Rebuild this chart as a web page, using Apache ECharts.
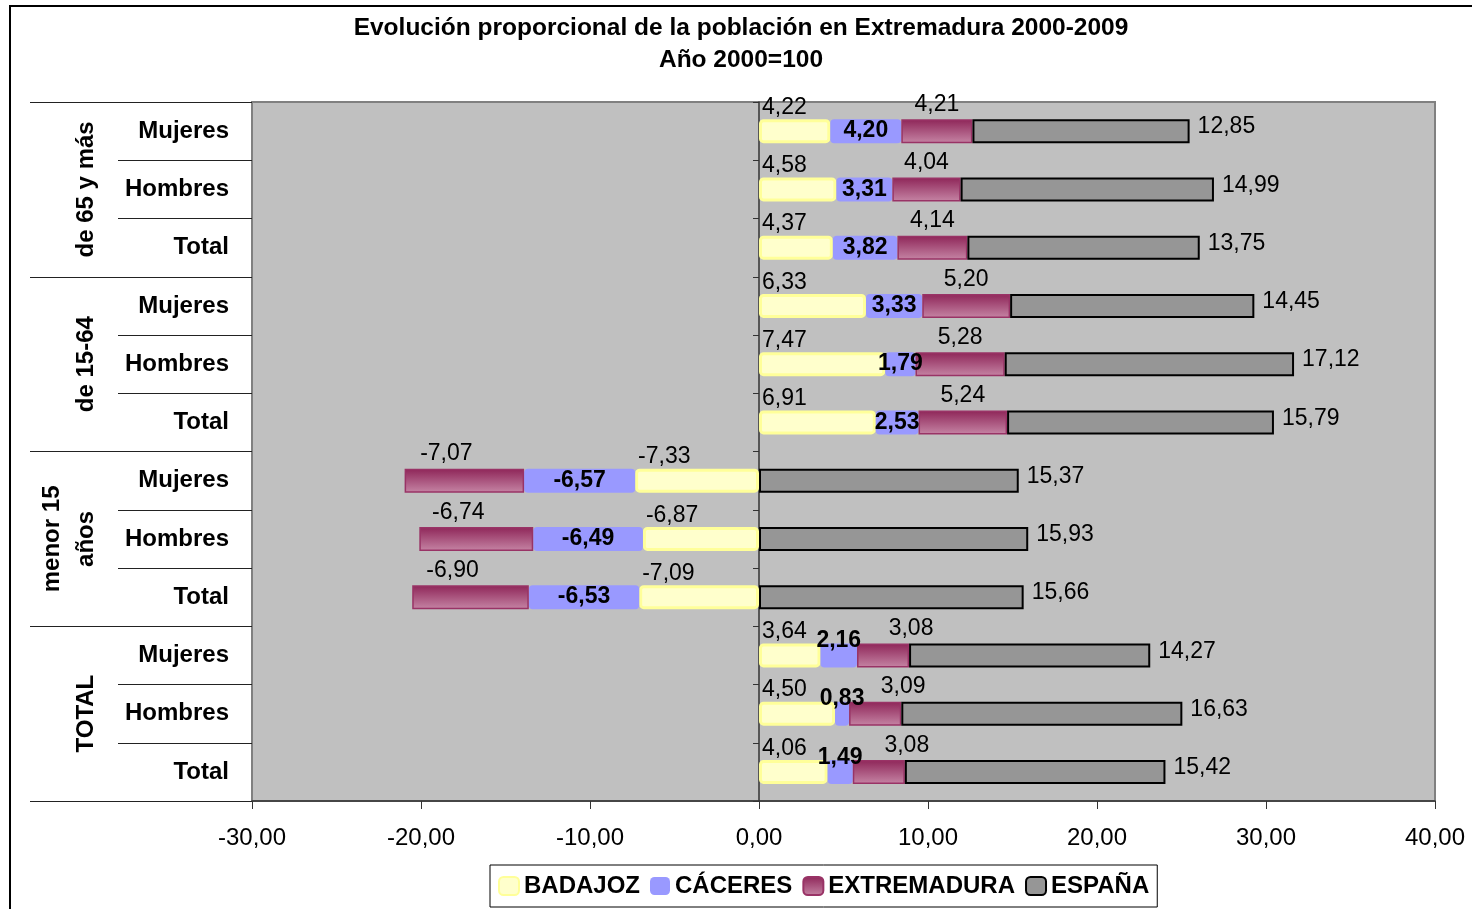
<!DOCTYPE html>
<html>
<head>
<meta charset="utf-8">
<title>Evolución proporcional de la población en Extremadura 2000-2009</title>
<script src="https://cdn.jsdelivr.net/npm/echarts@6.0.0/dist/echarts.min.js"></script>
<style>
  html, body { margin: 0; padding: 0; background: #fff; }
  #chart { width: 1472px; height: 909px; }
</style>
</head>
<body>
<div id="chart"></div>
<script>
  // categories, top to bottom
  const groups = ['de 65 y más', 'de 15-64', 'menor 15\naños', 'TOTAL'];
  const subgroups = ['Mujeres', 'Hombres', 'Total'];
  const seriesNames = ['BADAJOZ', 'CÁCERES', 'EXTREMADURA', 'ESPAÑA'];

  // values per row (group x subgroup)
  const badajoz = [4.22, 4.58, 4.37, 6.33, 7.47, 6.91, -7.33, -6.87, -7.09, 3.64, 4.50, 4.06];
  const caceres = [4.20, 3.31, 3.82, 3.33, 1.79, 2.53, -6.57, -6.49, -6.53, 2.16, 0.83, 1.49];
  const extremadura = [4.21, 4.04, 4.14, 5.20, 5.28, 5.24, -7.07, -6.74, -6.90, 3.08, 3.09, 3.08];
  const espana = [12.85, 14.99, 13.75, 14.45, 17.12, 15.79, 15.37, 15.93, 15.66, 14.27, 16.63, 15.42];

  // x axis ticks
  const xMin = -30;
  const xMax = 40;
  const xStep = 10;

  const FONT = "'Liberation Sans', Arial, sans-serif";
  const fmt = v => Number(v).toFixed(2).replace('.', ',');

  const rows = [];
  groups.forEach((g, gi) => subgroups.forEach(s => rows.push(gi + '|' + s)));
  const subName = key => key.split('|')[1];
  const groupOf = i => groups[Math.floor(i / subgroups.length)];

  const tickStyle = { color: '#222', width: 1 };

  const baseLabel = {
    show: true,
    color: '#000',
    fontFamily: FONT,
    fontSize: 23,
    formatter: p => fmt(p.value)
  };

  const chart = echarts.init(document.getElementById('chart'));
  chart.setOption({
    animation: false,
    backgroundColor: '#fff',
    title: {
      text: 'Evolución proporcional de la población en Extremadura 2000-2009\nAño 2000=100',
      left: 741,
      top: 12,
      padding: 0,
      textAlign: 'center',
      textStyle: { fontFamily: FONT, fontSize: 24.5, fontWeight: 'bold', color: '#000', lineHeight: 32 }
    },
    graphic: [{
      type: 'rect',
      silent: true,
      z: -10,
      shape: { x: 10, y: 6, width: 1500, height: 1000 },
      style: { fill: 'none', stroke: '#000', lineWidth: 2 }
    }],
    legend: {
      data: seriesNames,
      left: 490,
      top: 865,
      itemWidth: 20,
      itemHeight: 18,
      itemGap: 10,
      padding: [9, 8],
      borderColor: '#000',
      borderWidth: 1,
      backgroundColor: '#fff',
      textStyle: { fontFamily: FONT, fontSize: 24, fontWeight: 'bold', color: '#000' }
    },
    grid: {
      left: 252,
      right: 37,
      top: 102,
      bottom: 108,
      show: true,
      backgroundColor: '#C0C0C0',
      borderColor: '#808080',
      borderWidth: 2,
      outerBoundsMode: 'none'
    },
    xAxis: {
      type: 'value',
      min: xMin,
      max: xMax,
      interval: xStep,
      axisLine: { show: true, onZero: false, lineStyle: { color: '#333', width: 1.5 } },
      axisTick: { show: true, length: 8, lineStyle: { color: '#333', width: 1 } },
      axisLabel: { formatter: fmt, margin: 25, fontFamily: FONT, fontSize: 24, color: '#000' },
      splitLine: { show: false }
    },
    yAxis: [
      {
        type: 'category',
        data: rows,
        inverse: true,
        position: 'left',
        axisLine: { show: false, onZero: false },
        axisTick: { show: true, length: 134, lineStyle: tickStyle },
        axisLabel: {
          interval: 0, formatter: subName, margin: 23,
          fontFamily: FONT, fontSize: 24, fontWeight: 'bold', color: '#000'
        },
        splitLine: { show: false }
      },
      {
        type: 'category',
        data: groups,
        inverse: true,
        position: 'left',
        axisLine: { show: false, onZero: false },
        axisTick: { show: true, length: 222, lineStyle: tickStyle },
        axisLabel: {
          interval: 0, rotate: 90, margin: 149, lineHeight: 34,
          fontFamily: FONT, fontSize: 24, fontWeight: 'bold', color: '#000'
        },
        splitLine: { show: false }
      },
      {
        // vertical axis line crossing at 0
        type: 'category',
        data: rows,
        inverse: true,
        position: 'left',
        axisLine: { show: true, onZero: true, lineStyle: { color: '#333', width: 1.5 } },
        axisTick: { show: true, length: 6, lineStyle: { color: '#333', width: 1 } },
        axisLabel: { show: false },
        splitLine: { show: false }
      }
    ],
    series: [
      {
        name: seriesNames[0],
        type: 'bar',
        stack: 'total',
        barWidth: 24,
        data: badajoz,
        itemStyle: { color: '#FFFFCC', borderColor: '#FFFF99', borderWidth: 3, borderRadius: 3 },
        label: Object.assign({}, baseLabel, { position: [3, 0], align: 'left', verticalAlign: 'bottom' })
      },
      {
        name: seriesNames[1],
        type: 'bar',
        stack: 'total',
        barWidth: 24,
        // in the TOTAL block the narrow bars carry their label on top
        data: caceres.map((v, i) => groupOf(i) === 'TOTAL'
          ? { value: v, label: { position: 'top', distance: -9 } }
          : v),
        itemStyle: { color: '#9999FF', borderRadius: 4 },
        label: Object.assign({}, baseLabel, { position: 'inside', fontWeight: 'bold' })
      },
      {
        name: seriesNames[2],
        type: 'bar',
        stack: 'total',
        barWidth: 24,
        data: extremadura.map((v, i) => {
          if (groupOf(i) === 'TOTAL') return { value: v, label: { offset: [28, 0] } };
          if (v < 0) return { value: v, label: { offset: [-18, 0] } };
          return v;
        }),
        itemStyle: {
          color: new echarts.graphic.LinearGradient(0, 0, 0, 1, [
            { offset: 0, color: '#8E2558' },
            { offset: 1, color: '#C584A4' }
          ]),
          borderColor: '#993366',
          borderWidth: 1.5
        },
        label: Object.assign({}, baseLabel, { position: 'top', distance: 3 })
      },
      {
        name: seriesNames[3],
        type: 'bar',
        stack: 'total',
        barWidth: 24,
        data: espana,
        itemStyle: { color: '#969696', borderColor: '#000', borderWidth: 2 },
        label: Object.assign({}, baseLabel, { position: 'right', distance: 8, offset: [0, -4] })
      }
    ]
  });
</script>
</body>
</html>
